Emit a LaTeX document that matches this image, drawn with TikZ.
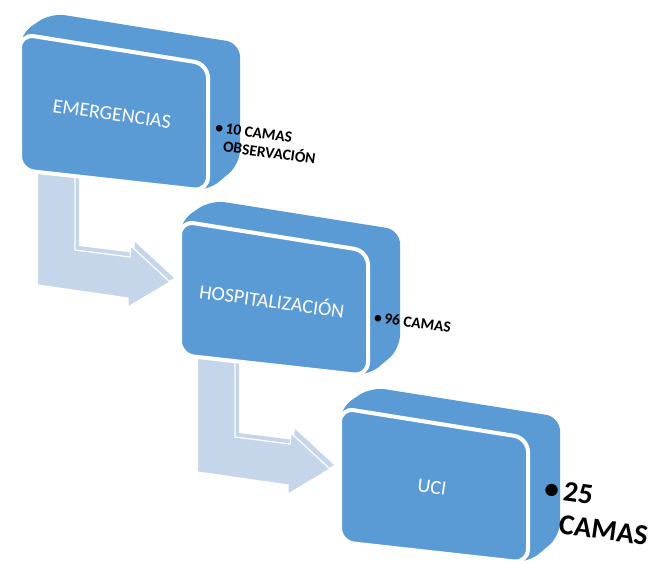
\documentclass[tikz,border=0pt]{standalone}
\usepackage{fontspec}
\setmainfont{Carlito}
\definecolor{boxblue}{RGB}{91,155,213}
\definecolor{arrowblue}{RGB}{197,213,234}

\begin{document}
\begin{tikzpicture}[x=1pt, y=-1pt,
  boxbody/.style = {fill=boxblue, rounded corners=14pt},
  boxface/.style = {fill=boxblue, draw=white, line width=4pt, rounded corners=14pt},
  arrowback/.style = {fill=arrowblue, shift={(4,-4)}},
  arrowfront/.style = {fill=arrowblue, draw=white, line width=1.2pt},
  title/.style = {text=white, rotate=-8, font=\fontsize{20}{24}\selectfont},
  note/.style = {anchor=west, align=left, rotate=-8, font=\bfseries\fontsize{15.5}{18}\selectfont}]
\useasboundingbox (0,0) rectangle (653,563);

% step 1
\begin{scope}[shift={(20,34)}]
\path[arrowback] (17.5,120) -- (17.5,251) -- (108,264) -- (108,273) -- (150,248) -- (111,212) -- (110,223) -- (55,216) -- (55,120) -- cycle;
\path[arrowfront] (17.5,120) -- (17.5,251) -- (108,264) -- (108,273) -- (150,248) -- (111,212) -- (110,223) -- (55,216) -- (55,120) -- cycle;
\path[boxbody] (0,0) -- (31,-21) -- (220,9) -- (220,130) -- (188,157) -- (0,136) -- cycle;
\path[boxface] (0,0) -- (188,30) -- (188,157) -- (0,136) -- cycle;
\node[title] (emerg) at (92,80) {EMERGENCIAS};
\node[note] (emergnote) at (201,103) {\llap{\textbullet\,}10 CAMAS\\OBSERVACIÓN};
\end{scope}

% step 2
\begin{scope}[shift={(180,221)}]
\path[arrowback] (17.5,120) -- (17.5,251) -- (108,264) -- (108,273) -- (150,248) -- (111,212) -- (110,223) -- (55,216) -- (55,120) -- cycle;
\path[arrowfront] (17.5,120) -- (17.5,251) -- (108,264) -- (108,273) -- (150,248) -- (111,212) -- (110,223) -- (55,216) -- (55,120) -- cycle;
\path[boxbody] (0,0) -- (31,-21) -- (220,9) -- (220,128) -- (188,155) -- (0,134) -- cycle;
\path[boxface] (0,0) -- (188,30) -- (188,155) -- (0,134) -- cycle;
\node[title] (hosp) at (92,79) {HOSPITALIZACIÓN};
\node[note] (hospnote) at (201,97) {\llap{\textbullet\,}96 CAMAS};
\end{scope}

% step 3
\begin{scope}[shift={(340,408)}]
\path[boxbody] (0,0) -- (31,-21) -- (220,9) -- (220,128) -- (188,155) -- (0,134) -- cycle;
\path[boxface] (0,0) -- (188,30) -- (188,155) -- (0,134) -- cycle;
\node[title] (uci) at (92,79) {UCI};
\node[note, font=\bfseries\fontsize{29}{33}\selectfont] (ucinote) at (218,99) {\llap{\textbullet\,}25\\CAMAS};
\end{scope}
\end{tikzpicture}
\end{document}
